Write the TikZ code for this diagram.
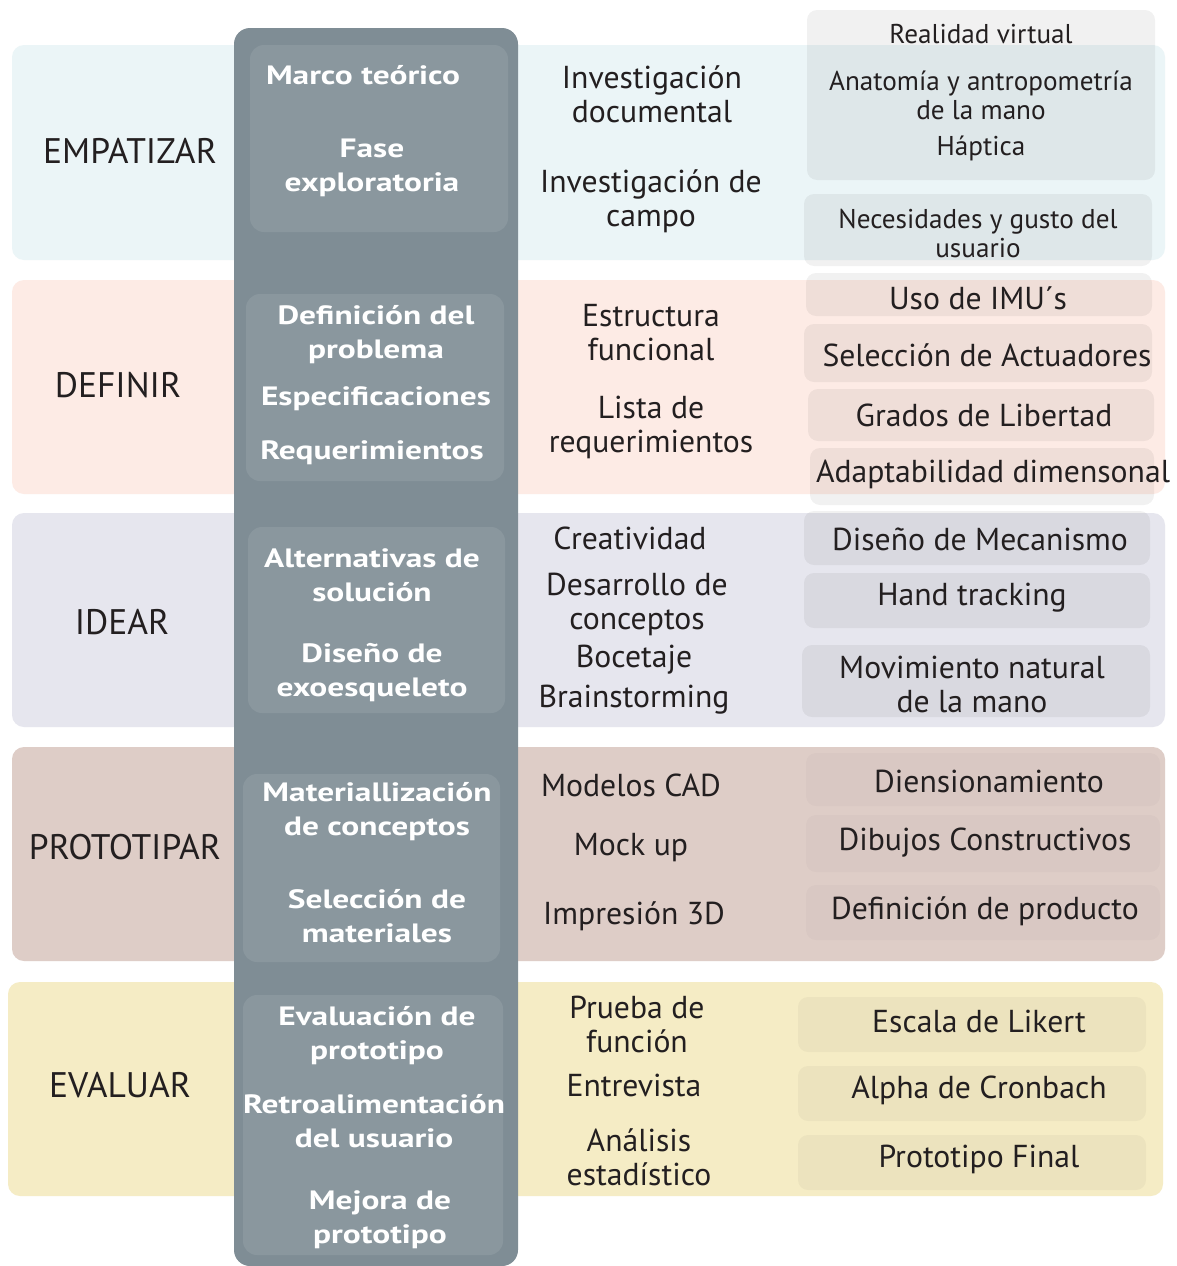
\documentclass[tikz,border=0pt]{standalone}
\usepackage{fontspec}
\setmainfont{PT Sans}
\newfontfamily\colfont[FakeStretch=1.26]{PT Sans}
\definecolor{bgcyan}{HTML}{EBF5F7}
\definecolor{bgsalmon}{HTML}{FDEBE5}
\definecolor{bglav}{HTML}{E6E6EE}
\definecolor{bgtaupe}{HTML}{DECDC7}
\definecolor{bgyellow}{HTML}{F5ECC5}
\definecolor{colgray}{HTML}{7F8D95}
\definecolor{colinner}{HTML}{8A979E}
\definecolor{txt}{HTML}{231F20}
\tikzset{
  band/.style={rounded corners=12pt},
  rbox/.style={fill=black, fill opacity=0.055, rounded corners=10pt},
  phase/.style={font=\fontsize{35.5}{40}\selectfont, text=txt},
  coltxt/.style={font=\colfont\bfseries\fontsize{26.5}{34}\selectfont, text=white, align=center},
  mid/.style={font=\fontsize{31.7}{34}\selectfont, text=txt, align=center},
  rt/.style={font=\fontsize{31.7}{34}\selectfont, text=txt, align=center},
  rts/.style={font=\fontsize{27.2}{29}\selectfont, text=txt, align=center},
}
\begin{document}
\begin{tikzpicture}[x=1pt,y=-1pt]
\useasboundingbox (0,0) rectangle (1176,1266);
\fill[white] (0,0) rectangle (1176,1266);
% bands
\fill[bgcyan,band] (12,45) rectangle (1165,260);
\fill[bgsalmon,band] (12,280) rectangle (1165,494);
\fill[bglav,band] (12,513) rectangle (1165,727);
\fill[bgtaupe,band] (12,747) rectangle (1165,961);
\fill[bgyellow,band] (8,982) rectangle (1163,1196);
% central column
\fill[colgray,rounded corners=16pt] (234,28) rectangle (518,1266);
\fill[colinner,rounded corners=14pt] (250,45) rectangle (508,232);
\fill[colinner,rounded corners=14pt] (246,294) rectangle (504,481);
\fill[colinner,rounded corners=14pt] (248,527) rectangle (505,713);
\fill[colinner,rounded corners=14pt] (243,774) rectangle (500,962);
\fill[colinner,rounded corners=14pt] (243,995) rectangle (503,1255);
% right boxes
\fill[rbox] (807,10) rectangle (1155,180);
\fill[rbox] (804,194) rectangle (1152,266);
\fill[rbox] (806,273) rectangle (1152,316);
\fill[rbox] (804,324) rectangle (1152,382);
\fill[rbox] (808,389) rectangle (1154,441);
\fill[rbox] (810,448) rectangle (1154,505);
\fill[rbox] (804,511) rectangle (1150,565);
\fill[rbox] (804,573) rectangle (1150,628);
\fill[rbox] (802,645) rectangle (1150,717);
\fill[rbox,fill opacity=0.02] (806,753) rectangle (1160,806);
\fill[rbox,fill opacity=0.02] (806,815) rectangle (1160,872);
\fill[rbox,fill opacity=0.02] (806,885) rectangle (1160,940);
\fill[rbox,fill opacity=0.035] (798,997) rectangle (1146,1052);
\fill[rbox,fill opacity=0.035] (798,1066) rectangle (1146,1121);
\fill[rbox,fill opacity=0.035] (798,1135) rectangle (1146,1190);
% phase labels
\node[phase] (p1) at (130,151) {EMPATIZAR};
\node[phase] (p2) at (118,385) {DEFINIR};
\node[phase] (p3) at (122,622) {IDEAR};
\node[phase] (p4) at (125,847) {PROTOTIPAR};
\node[phase] (p5) at (120,1085) {EVALUAR};
% column texts
\node[coltxt] (c1) at (363,75) {Marco teórico};
\node[coltxt] (c2) at (372,168) {Fase\\exploratoria};
\node[coltxt] (c3) at (376,335) {Definición del\\problema};
\node[coltxt] (c4) at (376,399) {Especificaciones};
\node[coltxt] (c5) at (372,453) {Requerimientos};
\node[coltxt] (c6) at (372,575) {Alternativas de\\solución};
\node[coltxt] (c7) at (372,673) {Diseño de\\exoesqueleto};
\node[coltxt] (c8) at (377,812) {Materiallización\\de conceptos};
\node[coltxt] (c9) at (377,916) {Selección de\\materiales};
\node[coltxt] (c10) at (377,1036) {Evaluación de\\prototipo};
\node[coltxt] (c11) at (374,1121) {Retroalimentación\\del usuario};
\node[coltxt] (c12) at (380,1220) {Mejora de\\prototipo};
% middle texts
\node[mid] (m1) at (652,94) {Investigación\\documental};
\node[mid] (m2) at (651,201) {Investigación de\\campo};
\node[mid] (m3) at (651,333) {Estructura\\funcional};
\node[mid] (m4) at (651,427) {Lista de\\requerimientos};
\node[mid] (m5) at (630,538) {Creatividad};
\node[mid] (m6) at (637,604) {Desarrollo de\\conceptos};
\node[mid] (m7) at (634,660) {Bocetaje};
\node[mid] (m8) at (634,700) {Brainstorming};
\node[mid] (m9) at (631,785) {Modelos CAD};
\node[mid] (m10) at (631,848) {Mock up};
\node[mid] (m11) at (634,916) {Impresión 3D};
\node[mid] (m12) at (637,1024) {Prueba de\\función};
\node[mid] (m13) at (634,1085) {Entrevista};
\node[mid] (m14) at (639,1157) {Análisis\\estadístico};
% right texts
\node[rts] (r1) at (981,34) {Realidad virtual};
\node[rts] (r2) at (981,95) {Anatomía y antropometría\\de la mano};
\node[rts] (r3) at (981,148) {Háptica};
\node[rts] (r4) at (978,233) {Necesidades y gusto del\\usuario};
\node[rt] (r5) at (978,298) {Uso de IMU´s};
\node[rt] (r6) at (987,355) {Selección de Actuadores};
\node[rt] (r7) at (984,415) {Grados de Libertad};
\node[rt] (r8) at (993,474) {Adaptabilidad dimensonal};
\node[rt] (r9) at (980,539) {Diseño de Mecanismo};
\node[rt] (r10) at (972,598) {Hand tracking};
\node[rt] (r11) at (972,684) {Movimiento natural\\de la mano};
\node[rt] (r12) at (989,781) {Diensionamiento};
\node[rt] (r13) at (985,843) {Dibujos Constructivos};
\node[rt] (r14) at (985,911) {Definición de producto};
\node[rt] (r15) at (979,1021) {Escala de Likert};
\node[rt] (r16) at (979,1090) {Alpha de Cronbach};
\node[rt] (r17) at (979,1159) {Prototipo Final};
\end{tikzpicture}
\end{document}
